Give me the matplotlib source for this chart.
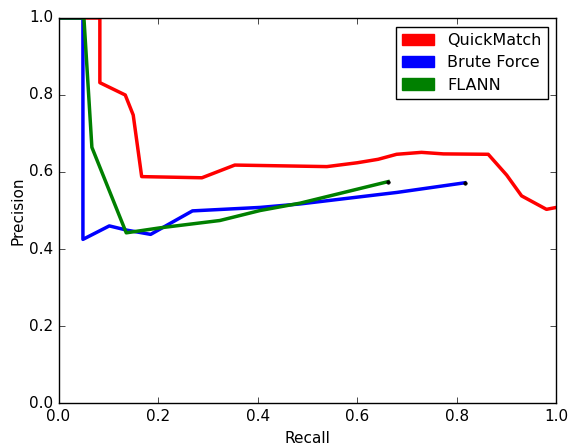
import matplotlib
matplotlib.use("Agg")
import matplotlib.pyplot as plt
import matplotlib.patches as mpatches

plt.style.use("classic")

# precision / recall curves
qm_recall = [0.0, 0.083, 0.083, 0.134, 0.150, 0.167, 0.288, 0.354, 0.539, 0.600, 0.642,
             0.679, 0.729, 0.773, 0.863, 0.900, 0.930, 0.980, 1.000, 1.02]
qm_precision = [1.0, 1.0, 0.832, 0.800, 0.748, 0.588, 0.585, 0.618, 0.614, 0.624, 0.633,
                0.646, 0.651, 0.647, 0.646, 0.592, 0.538, 0.503, 0.508, 0.512]

bf_recall = [0.0, 0.049, 0.049, 0.102, 0.137, 0.185, 0.269, 0.405, 0.485, 0.680, 0.816]
bf_precision = [1.0, 1.0, 0.425, 0.460, 0.449, 0.438, 0.499, 0.508, 0.517, 0.547, 0.572]

fl_recall = [0.0, 0.051, 0.067, 0.136, 0.204, 0.324, 0.405, 0.485, 0.662]
fl_precision = [1.0, 1.0, 0.664, 0.442, 0.455, 0.474, 0.500, 0.519, 0.575]

labels = ["QuickMatch", "Brute Force", "FLANN"]
colors = ["red", "blue", "green"]

fig = plt.figure(figsize=(5.71, 4.44), dpi=100, facecolor="white")
ax = fig.add_axes([0.1025, 0.0923, 0.872, 0.8672])

ax.plot(qm_recall, qm_precision, color="red", lw=2.5)
ax.plot(bf_recall, bf_precision, color="blue", lw=2.5)
ax.plot(fl_recall, fl_precision, color="green", lw=2.5)

# end points of the two baselines
ax.plot(bf_recall[-1], bf_precision[-1], "k.", markersize=5)
ax.plot(fl_recall[-1], fl_precision[-1], "k.", markersize=5)

ax.set_xlim(0, 1)
ax.set_ylim(0, 1)
ax.set_xticks([0, 0.2, 0.4, 0.6, 0.8, 1.0])
ax.set_yticks([0, 0.2, 0.4, 0.6, 0.8, 1.0])
ax.tick_params(labelsize=11)
ax.set_xlabel("Recall", fontsize=11)
ax.set_ylabel("Precision", fontsize=11, labelpad=2)

handles = [mpatches.Patch(color=c, label=l) for c, l in zip(colors, labels)]
ax.legend(handles=handles, loc="upper right", fontsize=11.5, borderaxespad=0.55,
          labelspacing=0.45)

fig.savefig("out.png", dpi=100, facecolor="white")
